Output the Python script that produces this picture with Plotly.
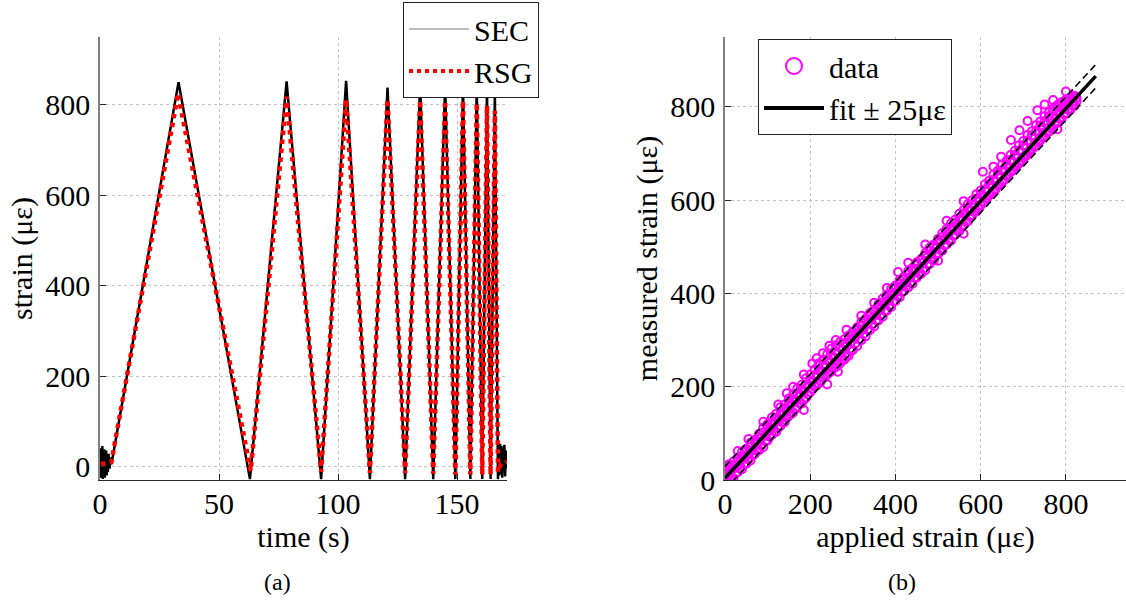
import plotly.graph_objects as go

# ---------------- data: left panel (time series) ----------------
sec_time = [0.0, 0.2, 0.4, 0.6, 0.8, 1.0, 1.2, 1.4, 1.6, 1.8, 2.0, 2.2, 2.4, 2.6, 2.8, 3.0,
            3.3, 3.6, 4.0, 4.4, 4.8,
            33.0, 63.0, 78.4, 92.9, 103.4, 113.4, 120.8, 128.2, 134.5, 140.0, 145.0, 149.3,
            152.5, 155.6, 158.3, 160.6, 162.6, 164.1, 165.9, 167.2,
            167.5, 167.8, 168.1, 168.4, 168.7, 169.0, 169.3, 169.6, 169.9, 170.2, 170.5, 170.8, 171.0]
sec_strain = [-5, 40, -25, 30, -20, 45, -28, 35, -15, 38, -25, 30, -10, 35, -20, 25,
              -12, 28, -5, 20, 5,
              850, -28, 852, -28, 853, -28, 838, -28, 845, -28, 845, -28,
              842, -28, 840, -28, 838, -28, 832, -28,
              30, -20, 50, -15, 45, -25, 40, -10, 48, -22, 35, -5, 20]

rsg_time = [0.4, 3.0, 4.8, 32.8, 63.3, 78.4, 92.9, 103.4, 113.4, 120.8, 128.2, 134.5, 140.0,
            145.0, 149.3, 152.5, 155.6, 158.3, 160.6, 162.6, 164.1, 165.9, 167.2, 168.4, 171.0]
rsg_strain = [5, 8, 10, 825, -10, 818, -12, 812, -14, 812, -15, 810, -16,
              809, -18, 809, -18, 804, -18, 798, -18, 787, -12, 6, 10]

time_ticks = [0, 50, 100, 150]
strain_ticks = [0, 200, 400, 600, 800]

# ---------------- data: right panel (measured vs applied) ----------------
applied_a = [0, 10, 20, 30, 40, 50, 60, 70, 80, 90, 100, 110, 120, 130, 140, 150, 160, 170, 180, 190,
             200, 210, 220, 230, 240, 250, 260, 270, 280, 290, 300, 310, 320, 330, 340, 350, 360, 370,
             380, 390, 400, 410, 420, 430, 440, 450, 460, 470, 480, 490, 500, 510, 520, 530, 540, 550,
             560, 570, 580, 590, 600, 610, 620, 630, 640, 650, 660, 670, 680, 690, 700, 710, 720, 730,
             740, 750, 760, 770, 780, 790, 800, 810, 820]
measured_upper = [22, 34, 40, 48, 61, 67, 80, 86, 99, 112, 120, 134, 142, 156, 162, 175, 183, 197, 204, 218,
                  226, 237, 250, 258, 270, 282, 289, 296, 302, 310, 318, 327, 339, 346, 358, 365, 377, 389,
                  398, 410, 417, 429, 436, 448, 455, 467, 474, 486, 498, 505, 517, 529, 538, 550, 558, 571,
                  579, 592, 600, 613, 621, 634, 642, 655, 663, 676, 684, 697, 706, 718, 727, 740, 748, 761,
                  769, 780, 788, 796, 804, 810, 816, 820, 824]
measured_mid_up = [12, 22, 31, 41, 52, 62, 71, 81, 92, 102, 112, 123, 133, 142, 153, 163, 172, 183, 193, 204,
                   213, 224, 235, 245, 256, 266, 275, 284, 292, 301, 311, 321, 331, 341, 351, 361, 371, 381,
                   391, 401, 411, 421, 431, 441, 451, 461, 471, 481, 491, 501, 511, 521, 531, 541, 551, 561,
                   572, 582, 592, 603, 613, 623, 634, 644, 655, 665, 676, 686, 697, 707, 718, 728, 739, 749,
                   760, 770, 780, 790, 799, 806, 812, 818, 822]
measured_lower = [0, 2, 4, 17, 23, 35, 42, 56, 64, 71, 85, 97, 103, 116, 124, 138, 145, 157, 164, 176,
                  188, 200, 207, 219, 226, 234, 242, 250, 258, 266, 279, 287, 300, 308, 321, 329, 342, 350,
                  363, 371, 384, 392, 405, 413, 421, 434, 442, 450, 463, 471, 484, 492, 505, 513, 526, 534,
                  547, 555, 568, 576, 589, 597, 610, 618, 631, 639, 652, 660, 671, 679, 690, 698, 709, 717,
                  728, 736, 747, 755, 766, 774, 785, 793, 802]
applied_b = [5, 15, 25, 35, 45, 55, 65, 75, 85, 95, 105, 115, 125, 135, 145, 155, 165, 175, 185, 195,
             205, 215, 225, 235, 245, 255, 265, 275, 285, 295, 305, 315, 325, 335, 345, 355, 365, 375,
             385, 395, 405, 415, 425, 435, 445, 455, 465, 475, 485, 495, 505, 515, 525, 535, 545, 555,
             565, 575, 585, 595, 605, 615, 625, 635, 645, 655, 665, 675, 685, 695, 705, 715, 725, 735,
             745, 755, 765, 775, 785, 795, 805, 815, 825]
measured_core = [8, 21, 27, 34, 49, 56, 63, 78, 90, 95, 107, 121, 128, 142, 149, 163, 170, 184, 191, 205,
                 213, 227, 235, 248, 256, 264, 272, 279, 287, 295, 304, 316, 323, 335, 347, 354, 366, 378,
                 385, 397, 404, 416, 423, 435, 447, 454, 466, 478, 485, 497, 509, 516, 528, 540, 547, 559,
                 571, 578, 590, 602, 609, 621, 633, 640, 652, 664, 671, 683, 692, 704, 713, 725, 732, 744,
                 751, 763, 770, 778, 787, 795, 803, 811, 819]
measured_mid_low = [0, 5, 14, 24, 35, 44, 53, 64, 74, 83, 93, 104, 112, 123, 133, 141, 152, 164, 172, 183,
                    194, 203, 212, 222, 230, 240, 249, 258, 266, 276, 292, 302, 313, 322, 334, 342, 353, 363,
                    374, 383, 394, 403, 414, 423, 434, 443, 452, 462, 473, 483, 494, 503, 514, 524, 534, 543,
                    553, 564, 574, 583, 594, 604, 614, 623, 634, 643, 654, 664, 674, 684, 694, 704, 714, 725,
                    734, 744, 754, 764, 774, 784, 794, 804, 812]
applied_out = [3, 6, 9, 30, 55, 90, 125, 145, 160, 185, 205, 215, 230, 245, 260, 285, 320, 350, 380, 406,
               430, 470, 520, 560, 605, 630, 648, 671, 691, 710, 733, 750, 770, 800, 185, 240, 265, 500,
               560, 780]
measured_out = [28, 12, 30, 62, 88, 125, 162, 186, 200, 226, 250, 261, 272, 288, 300, 322, 352, 380, 412, 446,
                466, 505, 556, 598, 661, 672, 693, 729, 750, 770, 793, 805, 815, 833, 150, 205, 232, 470,
                528, 752]

fit_applied = [0, 870]
fit_measured = [4, 866]
fit_tolerance = 25
applied_ticks = [0, 200, 400, 600, 800]

FONT = "Liberation Serif, Times New Roman, serif"
W, H = 1126, 601

fig = go.Figure()

# left panel
fig.add_trace(go.Scatter(x=sec_time, y=sec_strain, mode="lines", name="SEC",
                         line=dict(color="#000000", width=2.5), showlegend=False,
                         xaxis="x", yaxis="y"))
fig.add_trace(go.Scatter(x=rsg_time, y=rsg_strain, mode="lines", name="RSG",
                         line=dict(color="#ff0000", width=4.5, dash="dot"), showlegend=False,
                         xaxis="x", yaxis="y"))
# legend entries for left panel
fig.add_trace(go.Scatter(x=[None], y=[None], mode="lines", name="SEC",
                         line=dict(color="#7f7f7f", width=1.2), legend="legend",
                         xaxis="x", yaxis="y"))
fig.add_trace(go.Scatter(x=[None], y=[None], mode="lines", name="RSG",
                         line=dict(color="#ff0000", width=4, dash="dot"), legend="legend",
                         xaxis="x", yaxis="y"))

# right panel
all_applied = applied_a + applied_b + applied_a + applied_b + applied_a + applied_out
all_measured = measured_upper + measured_core + measured_mid_up + measured_mid_low + measured_lower + measured_out
fig.add_trace(go.Scatter(x=all_applied, y=all_measured, mode="markers", name="data",
                         marker=dict(symbol="circle-open", size=8, color="#ff00ff",
                                     line=dict(width=2, color="#ff00ff")),
                         showlegend=False, xaxis="x2", yaxis="y2"))
fig.add_trace(go.Scatter(x=fit_applied, y=[v + fit_tolerance for v in fit_measured], mode="lines",
                         line=dict(color="#000000", width=1.6, dash="7px,4px"), showlegend=False,
                         xaxis="x2", yaxis="y2"))
fig.add_trace(go.Scatter(x=fit_applied, y=[v - fit_tolerance for v in fit_measured], mode="lines",
                         line=dict(color="#000000", width=1.6, dash="7px,4px"), showlegend=False,
                         xaxis="x2", yaxis="y2"))
fig.add_trace(go.Scatter(x=fit_applied, y=fit_measured, mode="lines", name="fit",
                         line=dict(color="#000000", width=3.5), showlegend=False,
                         xaxis="x2", yaxis="y2"))
fig.add_trace(go.Scatter(x=[None], y=[None], mode="markers", name="data",
                         marker=dict(symbol="circle-open", size=16, color="#ff00ff",
                                     line=dict(width=2, color="#ff00ff")),
                         legend="legend2", xaxis="x2", yaxis="y2"))
fig.add_trace(go.Scatter(x=[None], y=[None], mode="lines", name="fit \u00b1 25\u03bc\u03b5",
                         line=dict(color="#000000", width=4), legend="legend2",
                         xaxis="x2", yaxis="y2"))

ydom = [1 - 480 / H, 1 - 37 / H]
common_x = dict(showgrid=True, gridcolor="#c4c4c4", griddash="dot", gridwidth=1,
                showline=True, linecolor="#262626", linewidth=1, ticks="inside", ticklen=6,
                tickcolor="#262626", zeroline=False, tickfont=dict(size=30, family=FONT, color="#000"),
                ticklabelstandoff=-3, automargin=False)
common_y = dict(showgrid=True, gridcolor="#c4c4c4", griddash="dot", gridwidth=1,
                showline=True, linecolor="#808080", linewidth=1.5, ticks="inside", ticklen=6,
                tickcolor="#262626", zeroline=False, tickfont=dict(size=30, family=FONT, color="#000"),
                ticklabelstandoff=2, automargin=False)

fig.update_layout(
    width=W, height=H, margin=dict(l=0, r=0, t=0, b=0, autoexpand=False),
    paper_bgcolor="white", plot_bgcolor="white",
    font=dict(family=FONT, size=30, color="#000"),
    xaxis=dict(domain=[100 / W, 507 / W], range=[0, 171], tickvals=time_ticks, anchor="y",
               title=dict(text="time (s)", font=dict(size=30), standoff=2), **common_x),
    yaxis=dict(domain=ydom, range=[-30, 950], tickvals=strain_ticks, anchor="x",
               title=dict(text="strain (\u03bc\u03b5)", font=dict(size=30), standoff=4), **common_y),
    xaxis2=dict(domain=[725 / W, 1.0], range=[0, 941], tickvals=applied_ticks, anchor="y2",
                title=dict(text="applied strain (\u03bc\u03b5)", font=dict(size=30), standoff=2), **common_x),
    yaxis2=dict(domain=ydom, range=[0, 950], tickvals=strain_ticks, anchor="x2",
                title=dict(text="measured strain (\u03bc\u03b5)", font=dict(size=30), standoff=4), **common_y),
    legend=dict(x=403 / W, y=1 - 2 / H, xanchor="left", yanchor="top", bgcolor="white",
                bordercolor="#222", borderwidth=1, font=dict(size=30, family=FONT),
                itemwidth=60, tracegroupgap=0),
    legend2=dict(x=758 / W, y=1 - 39 / H, xanchor="left", yanchor="top", bgcolor="white",
                 bordercolor="#222", borderwidth=1, font=dict(size=30, family=FONT),
                 itemwidth=60, tracegroupgap=0),
    annotations=[
        dict(text="(a)", x=277 / W, y=1 - 582 / H, xref="paper", yref="paper", showarrow=False,
             xanchor="center", yanchor="middle", font=dict(size=24, family=FONT)),
        dict(text="(b)", x=902 / W, y=1 - 582 / H, xref="paper", yref="paper", showarrow=False,
             xanchor="center", yanchor="middle", font=dict(size=24, family=FONT)),
    ],
)

# remove the browser's default 8px body margin so the figure sits at the page origin
fig.write_html("out.html", config={"displayModeBar": False},
               post_script="document.body.style.margin='0';")
